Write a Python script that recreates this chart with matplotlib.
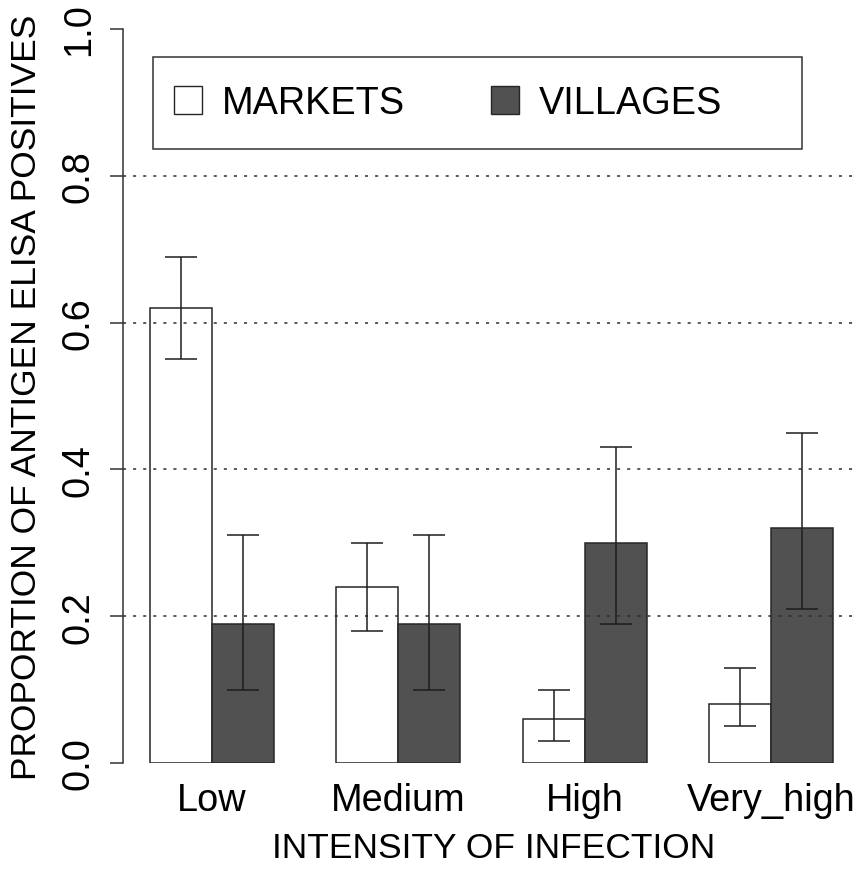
import numpy as np
import matplotlib
matplotlib.use("Agg")
import matplotlib.pyplot as plt
from matplotlib.patches import Patch, Rectangle

plt.rcParams['font.family'] = ['Liberation Sans', 'DejaVu Sans']

# data
categories = ['Low', 'Medium', 'High', 'Very_high']
markets = [0.62, 0.24, 0.06, 0.08]
markets_lo = [0.55, 0.18, 0.03, 0.05]
markets_hi = [0.69, 0.30, 0.10, 0.13]
villages = [0.19, 0.19, 0.30, 0.32]
villages_lo = [0.10, 0.10, 0.19, 0.21]
villages_hi = [0.31, 0.31, 0.43, 0.45]
series_names = ['MARKETS', 'VILLAGES']
yticks = [0.0, 0.2, 0.4, 0.6, 0.8, 1.0]
gridlines = [0.2, 0.4, 0.6, 0.8]

FS_LAB = 25.5
FS_TICK = 27.3
FS_LEG = 27.3
DARK = '#515151'
EDGE = '#262626'

fig = plt.figure(figsize=(8.56, 8.70), dpi=100)
ax = fig.add_axes([122.5 / 856, 106 / 870, 738 / 856, 734 / 870])

# R style barplot, beside=TRUE, space=c(0,1)
grp = np.arange(len(categories)) * 3
x_m = grp + 1.5
x_v = grp + 2.5

ax.bar(x_m, markets, width=1.0, color='white', edgecolor=EDGE, linewidth=1.1, zorder=2)
ax.bar(x_v, villages, width=1.0, color=DARK, edgecolor=EDGE, linewidth=1.1, zorder=2)

m = np.array(markets)
v = np.array(villages)
ax.errorbar(x_m, m, yerr=[m - np.array(markets_lo), np.array(markets_hi) - m],
            fmt='none', ecolor='#1e1e1e', elinewidth=1.1, capsize=11.3, capthick=1.1, zorder=4)
ax.errorbar(x_v, v, yerr=[v - np.array(villages_lo), np.array(villages_hi) - v],
            fmt='none', ecolor='#1e1e1e', elinewidth=1.1, capsize=11.3, capthick=1.1, zorder=4)

for g in gridlines:
    ax.axhline(g, color='#2e2e2e', linewidth=1.1, linestyle=(0, (2.0, 4.6)), zorder=3)

ax.set_xlim(0.56, 12.44)
ax.set_ylim(0, 1)

for s in ['top', 'right', 'bottom']:
    ax.spines[s].set_visible(False)
ax.spines['left'].set_bounds(0, 1)
ax.spines['left'].set_color('#333333')
ax.spines['left'].set_linewidth(1.1)

ax.set_yticks(yticks)
ax.set_yticklabels(['%.1f' % t for t in yticks], rotation=90, va='center')
ax.tick_params(axis='y', length=9.5, width=1.1, color='#333333', pad=9, labelsize=FS_TICK)
ax.set_xticks(grp + 2)
ax.set_xticklabels(categories)
ax.tick_params(axis='x', length=0, pad=14, labelsize=FS_TICK)

ax.set_xlabel('INTENSITY OF INFECTION', fontsize=FS_LAB)
ax.xaxis.label.set_va('baseline')
ax.xaxis.set_label_coords((494 - 122.5) / 738, -0.128)
ax.set_ylabel('PROPORTION OF ANTIGEN ELISA POSITIVES', fontsize=FS_LAB)
ax.yaxis.label.set_va('center')
ax.yaxis.set_label_coords(-0.1295, 0.5)

# legend box
x0 = (153 - 122.5) / 738
x1 = (802 - 122.5) / 738
y0 = (764 - 150) / 734
y1 = (764 - 58) / 734
ax.add_patch(Rectangle((x0, y0), x1 - x0, y1 - y0, transform=ax.transAxes,
                       facecolor='white', edgecolor='#333333', linewidth=1.1,
                       zorder=5, clip_on=False))
handles = [Patch(facecolor='white', edgecolor=EDGE, linewidth=1.0),
           Patch(facecolor=DARK, edgecolor=EDGE, linewidth=1.0)]
leg = ax.legend(handles, series_names, loc='center left',
                bbox_to_anchor=((174 - 122.5) / 738, (y0 + y1) / 2),
                ncol=2, frameon=False, fontsize=FS_LEG, borderpad=0, borderaxespad=0,
                handlelength=0.74, handleheight=0.74, handletextpad=0.53,
                columnspacing=2.25)
leg.set_zorder(6)

fig.savefig('out.png', dpi=100)
